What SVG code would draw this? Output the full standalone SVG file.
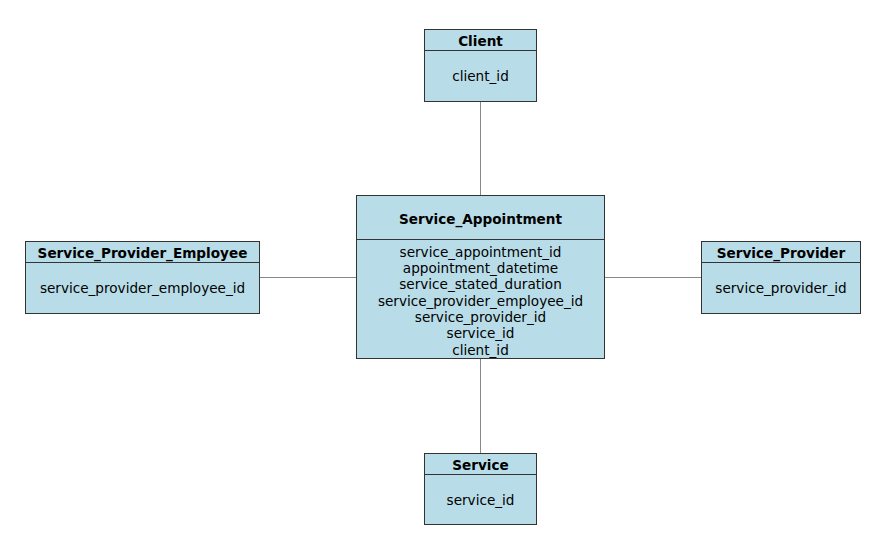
<svg xmlns="http://www.w3.org/2000/svg" width="877" height="547" viewBox="0 0 877 547">
<style>
.box{fill:#b8dde8;stroke:#333;stroke-width:1}
.div{stroke:#333;stroke-width:1}
.conn{stroke:#888;stroke-width:1;fill:none}
text{font-family:"DejaVu Sans",Verdana,sans-serif;font-size:13.6px;fill:#000;text-anchor:middle}
.h{font-weight:bold}
</style>
<rect width="877" height="547" fill="#fff"/>
<g id="connectors">
<line class="conn" x1="480.5" y1="101" x2="480.5" y2="195"/>
<line class="conn" x1="480.5" y1="358" x2="480.5" y2="453"/>
<line class="conn" x1="259" y1="277.5" x2="356" y2="277.5"/>
<line class="conn" x1="604" y1="277.5" x2="701" y2="277.5"/>
</g>
<g id="client">
<rect class="box" x="424.5" y="29.5" width="112" height="72"/>
<line class="div" x1="424.5" y1="50.5" x2="536.5" y2="50.5"/>
<text class="h" x="480.5" y="45.5">Client</text>
<text x="480.5" y="80.5">client_id</text>
</g>
<g id="service_appointment">
<rect class="box" x="356.5" y="195.5" width="248" height="163"/>
<line class="div" x1="356.5" y1="239.5" x2="604.5" y2="239.5"/>
<text class="h" x="480.5" y="223.5">Service_Appointment</text>
<text x="480.5" y="256.5">service_appointment_id</text>
<text x="480.5" y="272.5">appointment_datetime</text>
<text x="480.5" y="288.5">service_stated_duration</text>
<text x="480.5" y="305.5">service_provider_employee_id</text>
<text x="480.5" y="321.5">service_provider_id</text>
<text x="480.5" y="337.5">service_id</text>
<text x="480.5" y="354.5">client_id</text>
</g>
<g id="service_provider_employee">
<rect class="box" x="25.5" y="241.5" width="234" height="72"/>
<line class="div" x1="25.5" y1="262.5" x2="259.5" y2="262.5"/>
<text class="h" x="142.5" y="257.5">Service_Provider_Employee</text>
<text x="142.5" y="292.5">service_provider_employee_id</text>
</g>
<g id="service_provider">
<rect class="box" x="701.5" y="241.5" width="159" height="72"/>
<line class="div" x1="701.5" y1="262.5" x2="860.5" y2="262.5"/>
<text class="h" x="781" y="257.5">Service_Provider</text>
<text x="781" y="292.5">service_provider_id</text>
</g>
<g id="service">
<rect class="box" x="424.5" y="453.5" width="112" height="71"/>
<line class="div" x1="424.5" y1="474.5" x2="536.5" y2="474.5"/>
<text class="h" x="480.5" y="469.5">Service</text>
<text x="480.5" y="504.5">service_id</text>
</g>
</svg>
